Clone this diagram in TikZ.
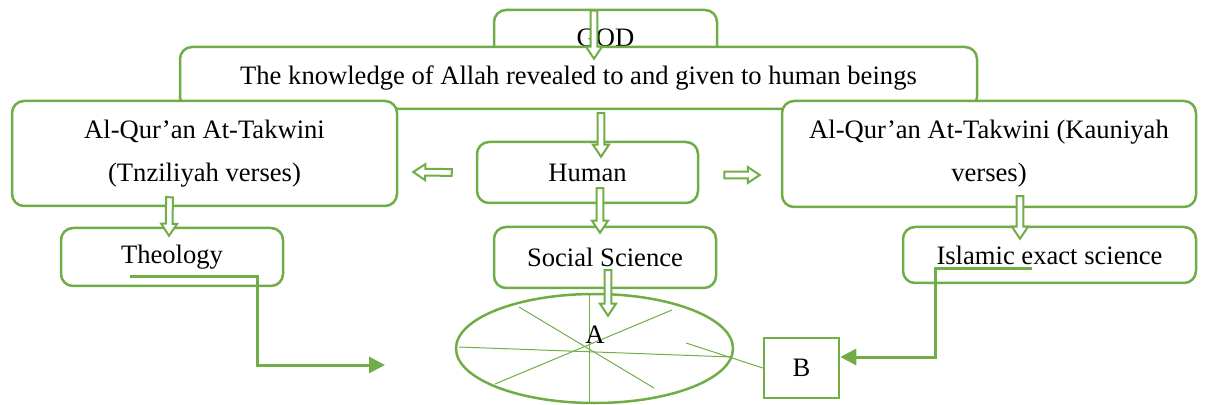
\documentclass[tikz,border=0pt]{standalone}
\usepackage{fontspec}
\setmainfont{Liberation Serif}
\usetikzlibrary{shapes.geometric,arrows.meta,calc}
\definecolor{leaf}{RGB}{112,173,71}

\begin{document}
\begin{tikzpicture}[x=0.5pt, y=-0.5pt,
    font=\fontsize{13.3}{15}\selectfont,
    rbox/.style={draw=leaf, line width=1.25pt, rounded corners=6pt, fill=white,
        inner sep=0pt, align=center},
    twoline/.style={font=\fontsize{13.3}{21.5}\selectfont},
    flow/.style={draw=leaf, line width=1.5pt, -{Triangle[length=8pt,width=8pt]}},
    spoke/.style={draw=leaf, line width=0.5pt},
    % outlined block arrow, drawn as a closed shape between two points
    hollow/.style={draw=leaf, line width=1pt, fill=white, to path={
        let \p1=($(\tikztotarget)-(\tikztostart)$),
            \n1={atan2(\y1,\x1)}, \n2={veclen(\x1,\y1)-6pt} in
        ($(\tikztostart)+(\n1+90:1.7pt)$) -- ++(\n1:\n2) -- ++(\n1+90:2.3pt)
        -- (\tikztotarget) -- ($(\tikztotarget)+(\n1+180:6pt)+(\n1-90:4pt)$)
        -- ++(\n1+90:2.3pt) -- ++(\n1+180:\n2) -- cycle}}]

    \useasboundingbox (0,0) rectangle (1208,405);

    % Boxes
    \node[rbox, minimum width=111.5pt, minimum height=28pt] (god) at (605.5,38) {GOD};
    \node[rbox, minimum width=398.5pt, minimum height=31pt] (know) at (578.5,78)
        {The knowledge of Allah revealed to and given to human beings};
    \node[rbox, twoline, minimum width=192.5pt, minimum height=52.5pt] (tanzil) at (204.5,153.5)
        {Al-Qur'an At-Takwini\\(Tnziliyah verses)};
    \node[rbox, twoline, minimum width=207pt, minimum height=53pt] (kauni) at (989,154)
        {Al-Qur'an At-Takwini (Kauniyah\\verses)};
    \node[rbox, minimum width=110.5pt, minimum height=30.5pt] (human) at (587.5,172.5) {Human};
    \node[rbox, minimum width=111pt, minimum height=29pt] (theo) at (172,257) {Theology};
    \node[rbox, minimum width=111pt, minimum height=30.5pt] (social) at (605,257.5) {Social Science};
    \node[rbox, minimum width=146.5pt, minimum height=28pt] (exact) at (1049.5,255) {Islamic exact science};

    % Disc A and box B
    \node[draw=leaf, line width=1.25pt, ellipse, inner sep=0pt,
        minimum width=138.5pt, minimum height=54.5pt] (disc) at (594.5,348.5) {};
    \node[draw=leaf, line width=1.25pt, fill=white, inner sep=0pt,
        minimum width=37.5pt, minimum height=30pt] (b) at (801.5,368) {B};
    \draw[spoke] (589,294) -- (589,403);
    \draw[spoke] (519,307) -- (654,388);
    \draw[spoke] (495,384) -- (672,310);
    \draw[spoke] (459,347) -- (732,357);
    \draw[spoke] (686,343) -- (b.west);
    \node (lbla) at (595,335) {A};

    % Block arrows
    \draw[hollow] ([shift={(-11.5,2)}]god.north) to ([shift={(15.5,13)}]know.north);
    \draw[hollow] ([shift={(22.5,3)}]know.south) to ([shift={(13.5,16)}]human.north);
    \draw[hollow] ([shift={(12.5,-16)}]human.south) to ([shift={(-5,7)}]social.north);
    \draw[hollow] ([shift={(3,-19)}]social.south) to ([shift={(13.5,23)}]disc.north);
    \draw[hollow] ([shift={(-24,0)}]human.west) to ([shift={(15,18.5)}]tanzil.east);
    \draw[hollow] ([shift={(25,2.5)}]human.east) to ([shift={(-21,21)}]kauni.west);
    \draw[hollow] ([shift={(-35,-10)}]tanzil.south) to ([shift={(-3,9)}]theo.north);
    \draw[hollow] ([shift={(31,-12)}]kauni.south) to ([shift={(-29.5,13)}]exact.north);

    % Elbow connectors
    \coordinate (tend) at (385,365);
    \draw[flow] ([shift={(-42,20)}]theo.center) -- ++(127,0) |- (tend);
    \draw[flow] ([shift={(-17.5,14)}]exact.center) -- ++(-97,0) |- ([shift={(0,-11)}]b.east);

\end{tikzpicture}
\end{document}
